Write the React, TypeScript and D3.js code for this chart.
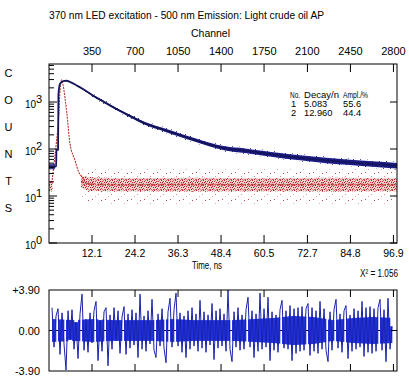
import React from "react";
import * as d3 from "d3";

// ---------- data ----------
const titleText = "370 nm LED excitation - 500 nm Emission:  Light crude oil AP";
const timeTicks = [12.1, 24.2, 36.3, 48.4, 60.5, 72.7, 84.8, 96.9];
const channelTicks = [350, 700, 1050, 1400, 1750, 2100, 2450, 2800];
const countDecades = [1, 10, 100, 1000];
const decadeExponents = ["0", "1", "2", "3"];
const countsLetters = ["C", "O", "U", "N", "T", "S"];
const fitHeader = ["No.", "Decay/n", "Ampl./%"];
const fitNo = ["1", "2"];
const fitDecay = ["5.083", "12.960"];
const fitAmpl = ["55.6", "44.4"];
const chiSquared = "1.056";
const residLimits = [3.9, 0, -3.9];
const residLabels = ["+3.90", "0.00", "-3.90"];

// sample decay (ns, counts)
const decayTime = [0, 1.5, 2.0, 2.1, 2.55, 2.65, 3.1, 4.0, 4.9, 6, 8, 10, 12.9, 15.5, 18.6, 22, 27, 32.6, 37, 41.1, 45, 49.5, 55.1, 60, 65, 70.6, 78, 84.7, 91, 97.9];
const decayCounts = [42, 42, 43, 95, 97, 1400, 2450, 2780, 2830, 2650, 2200, 1800, 1300, 1000, 735, 540, 352, 253, 195, 155, 125, 103, 92, 82, 73, 65, 57, 52, 48, 44];
// noisy spread of the decay tail
const tailTime = [10, 12.9, 15.5, 18.6, 22, 27, 32.6, 37, 41.1, 45, 49.5, 55.1, 60, 65, 70.6, 78, 84.7, 91, 97.9];
const tailHigh = [1854, 1352, 1050, 775, 572, 377, 273, 212, 169, 138, 114, 103, 92, 82.5, 73.5, 65, 59.3, 55.2, 50.6];
const tailLow = [1748, 1250, 952, 697, 509, 329, 234, 180, 142, 114, 93, 82, 73, 64.6, 57.5, 50, 45.6, 41.7, 38.3];
// pre-rise sample counts
const preTime = [0, 1.7];
const preHigh = [48, 48];
const preLow = [37, 37];

// instrument response (IRF)
const irfTime = [0.8, 1.2, 2.0, 2.8, 3.1, 3.57, 3.9, 5.0, 5.9, 7.3, 8.3, 9.2, 10.5, 12];
const irfCounts = [19, 35, 120, 600, 1800, 2950, 2400, 600, 130, 58, 33, 26, 19, 17.5];
const irfPreTime = [0, 1.0];
const irfPreLow = [12.5, 12.5];
const irfPreHigh = [21, 21];
const irfBandTime = [9.0, 12, 20, 40, 60, 80, 97.9];
const irfDenseLow = [15, 12.8, 12.6, 12.5, 12.6, 12.5, 12.6];
const irfDenseHigh = [27, 25, 24, 24.5, 24, 24.5, 24];
const irfScatterLow = [9, 7, 6.8, 6.8, 6.8, 6.8, 6.8];
const irfScatterHigh = [40, 38, 37, 38, 37, 38, 37];

// weighted residuals
const residuals = [
  2.2, -1.6, 1.4, 2.1, -2.3, 1.7, -1.3, -3.8, 1.9, -0.9,
  2.0, -1.8, 0.8, -2.7, 1.6, 3.5, -1.9, 1.1, -2.1, 1.7,
  -1.2, 1.9, 2.8, -2.9, 1.0, -2.0, 1.8, 2.2, -3.4, 1.5,
  -1.8, 2.2, -1.0, 1.9, -2.2, 1.3, 2.3, -2.3, 1.6, -1.7,
  2.0, -1.4, 1.7, -2.6, 3.5, -1.8, 1.4, -2.0, 1.9, -1.3,
  3.0, -1.9, -2.6, 1.6, -1.5, 2.1, -1.7, -3.1, 1.8, 3.1,
  -1.6, 2.0, 3.6, -1.5, 1.7, -2.1, 1.4, -2.6, 1.9, -1.8,
  2.2, -1.5, 1.6, -2.0, 2.9, -1.7, 1.8, -2.1, 1.5, -1.4,
  2.6, -2.8, 1.9, -1.7, 2.1, -1.5, 1.6, -2.0, 3.9, -1.8,
  -3.0, 1.8, -1.6, 2.2, -1.9, 1.5, -1.8, 2.0, 3.2, -1.6,
  1.9, -2.6, 1.6, -2.0, 3.6, -1.8, 2.1, -1.6, 3.2, -2.9,
  1.8, -1.9, 1.5, -2.1, 2.0, 2.9, -1.7, 1.9, -1.8, 2.4,
  -2.9, 2.1, -2.2, 2.2, -2.0, 2.3, -1.9, 2.1, 2.6, -2.4,
  2.2, -2.0, 1.9, -2.2, 2.8, -1.8, 2.1, -1.9, -3.0, 1.8,
  -1.9, 2.0, 3.0, -1.7, 1.6, -2.1, 1.9, 2.4, -2.7, 1.5,
  -2.0, 2.1, -1.8, 1.9, -1.6, 2.8, -2.5, 2.2, -2.1, 2.3,
  -2.2, 2.1, -2.0, 2.2, 3.0, -1.9, 2.0, -3.0, 3.1, -1.8,
  0.4,
];
// envelope of the dense residual core, every 10 residual points
const residCore = [1.1, 1.0, 1.1, 1.0, 1.0, 1.0, 1.1, 1.0, 1.0, 1.0, 1.1, 1.2, 1.4, 1.3, 1.0, 1.2, 1.3, 1.2];
const residStart = 0.85;
const residEnd = 96.5;

// ---------- layout ----------
const W = 409;
const H = 381;
const L = 49;
const R = 397;
const T = 64;
const B = 243;
const RT = 290;
const RB = 371;
const FONT = "'Liberation Sans', Arial, sans-serif";

export default function App() {
  const tMax = 97.9;
  const x = d3.scaleLinear().domain([0, tMax]).range([L, R]);
  const ch = d3.scaleLinear().domain([0, (tMax * 2800) / 96.9]).range([L, R]);
  const y = d3.scaleLog().domain([1, Math.pow(10, (B - T) / 47)]).range([B, T]);
  const r = d3.scaleLinear().domain([-3.9, 3.9]).range([RB, RT]);
  const rx = d3
    .scaleLinear()
    .domain([0, residuals.length - 1])
    .range([residStart, residEnd]);
  const core = d3
    .scaleLinear()
    .domain(residCore.map((_, i) => i * 10))
    .range(residCore)
    .clamp(true);

  const line = d3
    .line<[number, number]>()
    .x((d) => x(d[0]))
    .y((d) => y(d[1]))
    .curve(d3.curveMonotoneX);

  const band = (ts: number[], lo: number[], hi: number[]) =>
    d3
      .area<number>()
      .x((_, i) => x(ts[i]))
      .y0((_, i) => y(lo[i]))
      .y1((_, i) => y(hi[i]))
      .curve(d3.curveMonotoneX)(ts) || "";

  const decayPath = line(decayTime.map((t, i) => [t, decayCounts[i]])) || "";
  const irfPath = line(irfTime.map((t, i) => [t, irfCounts[i]])) || "";
  const irfCenterVals = irfBandTime.map((t, i) => [t, Math.sqrt(irfDenseLow[i] * irfDenseHigh[i])] as [number, number]);
  const irfCenter = line(irfCenterVals) || "";

  const residPath =
    d3
      .line<number>()
      .x((_, i) => x(rx(i)))
      .y((d) => r(d))(residuals) || "";

  const residCols = residuals.slice(0, -1).map((v, i) => {
    const w = residuals[i + 1];
    const c = core(i);
    const hi = Math.min(Math.max(v, w), c);
    const lo = Math.max(Math.min(v, w), -c);
    return { x0: x(rx(i)), x1: x(rx(i + 1)), top: r(hi), bot: r(lo) };
  });

  const minorTicks: number[] = [];
  countDecades.forEach((d) => {
    for (let m = 2; m <= 9; m++) {
      const v = d * m;
      if (y(v) > T + 0.5) minorTicks.push(v);
    }
  });

  return (
    <svg width={W} height={H} style={{ position: "absolute", left: 0, top: 0, background: "#fff" }} fontFamily={FONT}>
      <defs>
        <pattern id="redDense" width="7" height="5" patternUnits="userSpaceOnUse">
          <rect x="0" y="0" width="1" height="1" fill="#b82020" />
          <rect x="2" y="1" width="1" height="1" fill="#c83030" />
          <rect x="5" y="0" width="1" height="1" fill="#d86060" />
          <rect x="1" y="2" width="1" height="1" fill="#a01818" />
          <rect x="3" y="3" width="1" height="1" fill="#c84040" />
          <rect x="6" y="2" width="1" height="1" fill="#b82828" />
          <rect x="4" y="4" width="1" height="1" fill="#e08080" />
          <rect x="0" y="4" width="1" height="1" fill="#c85050" />
          <rect x="4" y="1" width="1" height="1" fill="#b03030" />
          <rect x="6" y="4" width="1" height="1" fill="#d06060" />
          <rect x="2" y="4" width="1" height="1" fill="#a82020" />
        </pattern>
        <pattern id="redSparse" width="13" height="9" patternUnits="userSpaceOnUse">
          <rect x="1" y="1" width="1" height="1" fill="#c85050" />
          <rect x="7" y="5" width="1" height="1" fill="#e09090" />
          <rect x="10" y="2" width="1" height="1" fill="#c04040" />
          <rect x="4" y="7" width="1" height="1" fill="#e8a8a8" />
        </pattern>
        <pattern id="blueSparse" width="7" height="5" patternUnits="userSpaceOnUse">
          <rect x="1" y="1" width="1" height="1" fill="#2a2a90" />
          <rect x="5" y="3" width="1" height="1" fill="#4040b0" />
          <rect x="3" y="4" width="1" height="1" fill="#2a2a90" />
        </pattern>
      </defs>

      {/* title */}
      <text x={L} y={19} fontSize={10.5} textLength={275} lengthAdjust="spacingAndGlyphs" fill="#000">
        {titleText}
      </text>
      <text x={191} y={37} fontSize={10.5} textLength={39} lengthAdjust="spacingAndGlyphs">
        Channel
      </text>
      {channelTicks.map((c) => (
        <text key={"c" + c} x={ch(c)} y={55} fontSize={11} textAnchor="middle">
          {c}
        </text>
      ))}

      {/* IRF scatter */}
      <path d={band(irfBandTime, irfScatterLow, irfScatterHigh)} fill="url(#redSparse)" />
      <path d={band(irfBandTime, irfDenseLow, irfDenseHigh)} fill="#eeb4b4" opacity={0.6} />
      <path d={band(irfBandTime, irfDenseLow, irfDenseHigh)} fill="url(#redDense)" />
      <path d={irfCenter} fill="none" stroke="#b42828" strokeWidth={2} strokeDasharray="3 1 1 2 2 1" opacity={0.75} />
      <path d={band(irfPreTime, irfPreLow, irfPreHigh)} fill="#eeb4b4" opacity={0.6} />
      <path d={band(irfPreTime, irfPreLow, irfPreHigh)} fill="url(#redDense)" />
      <path d={irfPath} fill="none" stroke="#b83030" strokeWidth={1.1} strokeDasharray="2 1" />

      {/* decay */}
      <path d={band(preTime, preLow, preHigh)} fill="#2a2a90" opacity={0.85} />
      <path d={band(tailTime, tailLow.map((v) => v / 1.06), tailHigh.map((v) => v * 1.06))} fill="url(#blueSparse)" />
      <path d={band(tailTime, tailLow, tailHigh)} fill="#1c1c86" />
      <path d={decayPath} fill="none" stroke="#14145a" strokeWidth={1.8} />

      {/* main frame */}
      <rect x={L} y={T} width={R - L} height={B - T} fill="none" stroke="#000" strokeWidth={1} />
      {timeTicks.map((t) => (
        <g key={"t" + t}>
          <line x1={x(t)} x2={x(t)} y1={T} y2={T + 8} stroke="#000" />
          <line x1={x(t)} x2={x(t)} y1={B} y2={B - 8} stroke="#000" />
          <text x={x(t)} y={257} fontSize={10.5} textAnchor="middle">
            {t.toFixed(1)}
          </text>
        </g>
      ))}
      {countDecades.map((d, i) => (
        <g key={"d" + d}>
          <line x1={L} x2={L + 8} y1={y(d)} y2={y(d)} stroke="#000" />
          <line x1={R} x2={R - 7} y1={y(d)} y2={y(d)} stroke="#000" />
          <text x={25} y={y(d) + 6} fontSize={10}>
            10
          </text>
          <text x={36} y={y(d) + 1} fontSize={11}>
            {decadeExponents[i]}
          </text>
        </g>
      ))}
      {minorTicks.map((v) => (
        <line key={"m" + v} x1={L} x2={L + 5} y1={y(v)} y2={y(v)} stroke="#000" />
      ))}
      {countsLetters.map((c, i) => (
        <text key={"l" + i} x={8.5} y={77 + i * 27} fontSize={11} textAnchor="middle">
          {c}
        </text>
      ))}
      <text x={192} y={268.5} fontSize={10} textLength={30} lengthAdjust="spacingAndGlyphs">
        Time, ns
      </text>
      <text x={360} y={277} fontSize={10.5} textLength={38} lengthAdjust="spacingAndGlyphs">
        {"X\u00B2 = " + chiSquared}
      </text>

      {/* fit table */}
      <text x={290} y={98} fontSize={9.3} textLength={10} lengthAdjust="spacingAndGlyphs">{fitHeader[0]}</text>
      <text x={304} y={98} fontSize={9.3} textLength={35} lengthAdjust="spacingAndGlyphs">{fitHeader[1]}</text>
      <text x={343} y={98} fontSize={9.3} textLength={25} lengthAdjust="spacingAndGlyphs">{fitHeader[2]}</text>
      {fitNo.map((n, i) => (
        <g key={"f" + n} fontSize={9.3}>
          <text x={291} y={107 + i * 9}>{n}</text>
          <text x={304} y={107 + i * 9}>{fitDecay[i]}</text>
          <text x={343} y={107 + i * 9}>{fitAmpl[i]}</text>
        </g>
      ))}

      {/* residuals */}
      <line x1={L} x2={R} y1={r(0)} y2={r(0)} stroke="#000" />
      {residCols.map((c, i) => (
        <rect key={"rc" + i} x={c.x0} y={c.top} width={c.x1 - c.x0 + 0.3} height={c.bot - c.top} fill="#1f32e4" />
      ))}
      <path d={residPath} fill="none" stroke="#1a22a8" strokeWidth={1} />
      <rect x={L} y={RT} width={R - L} height={RB - RT} fill="none" stroke="#000" />
      {timeTicks.map((t) => (
        <g key={"rt" + t}>
          <line x1={x(t)} x2={x(t)} y1={RT} y2={RT + 7} stroke="#000" />
          <line x1={x(t)} x2={x(t)} y1={RB} y2={RB - 7} stroke="#000" />
        </g>
      ))}
      <line x1={R} x2={R - 6} y1={r(0)} y2={r(0)} stroke="#000" />
      {residLimits.map((v, i) => (
        <text key={"rl" + i} x={40} y={[294, 335, 375][i]} fontSize={11} textAnchor="end">
          {residLabels[i]}
        </text>
      ))}
    </svg>
  );
}
